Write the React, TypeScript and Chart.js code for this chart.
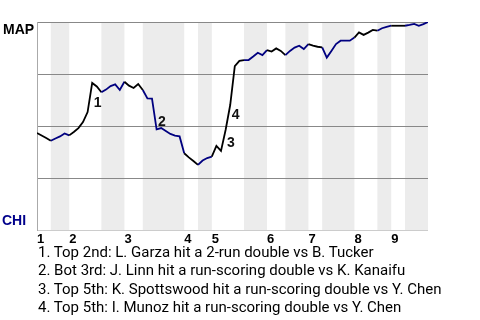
import { useEffect, useRef } from "react";
import { Chart, registerables } from "chart.js";

Chart.register(...registerables);

// Win probability for MAP (%) after each play, play index 0..85
const winProb = [
  46.6, 45.4, 44.2, 42.9, 44.0, 45.0, 46.4, 45.5, 47.1, 49.0,
  51.9, 56.7, 70.7, 69.0, 66.2, 67.5, 69.2, 70.0, 67.3, 71.3,
  69.4, 68.3, 70.2, 67.3, 63.3, 63.2, 48.4, 49.0, 47.6, 46.2,
  45.4, 45.0, 36.9, 34.9, 33.2, 31.3, 33.4, 34.6, 35.3, 40.4,
  38.0, 48.1, 60.1, 78.8, 81.3, 81.7, 81.7, 83.4, 85.2, 84.1,
  86.5, 85.8, 87.3, 86.1, 84.1, 86.1, 87.7, 88.6, 87.0, 89.4,
  88.6, 88.1, 87.8, 82.9, 86.1, 89.4, 91.0, 91.0, 91.0, 92.5,
  95.0, 93.8, 94.9, 96.2, 95.8, 97.0, 97.7, 98.2, 98.2, 98.2,
  98.2, 98.6, 99.1, 98.2, 99.0, 100,
];

// Play index where each half-inning starts (top 1st, bot 1st, ...), last = end
const halfInningStarts = [0, 3, 7, 14, 19, 23, 32, 35, 38, 45, 50, 54, 59, 62, 69, 74, 77, 80, 85];
const inningLabels = ["1", "2", "3", "4", "5", "6", "7", "8", "9"];
const inningStarts = halfInningStarts.filter((_, k) => k % 2 === 0 && k < 18);

const topTeam = "MAP";
const bottomTeam = "CHI";

// Key plays: play index, value where the number sits, and the description
const eventIndex = [12, 26, 41, 42];
const eventLabelValue = [60.9, 51.9, 41.7, 55.3];
const eventNotes = [
  "1. Top 2nd: L. Garza hit a 2-run double vs B. Tucker",
  "2. Bot 3rd: J. Linn hit a run-scoring double vs K. Kanaifu",
  "3. Top 5th: K. Spottswood hit a run-scoring double vs Y. Chen",
  "4. Top 5th: I. Munoz hit a run-scoring double vs Y. Chen",
];

const BLUE = "#000080";
const BLACK = "#000000";
const BAND = "#ececec";

function halfIndex(i: number) {
  let k = 0;
  while (k + 1 < halfInningStarts.length - 1 && halfInningStarts[k + 1] <= i) k++;
  return k;
}

export default function App() {
  const ref = useRef<HTMLCanvasElement | null>(null);

  useEffect(() => {
    if (!ref.current) return;
    const bandsPlugin = {
      id: "bands",
      beforeDraw(chart: any) {
        const { ctx, chartArea, scales } = chart;
        const xs = scales.x;
        ctx.save();
        ctx.fillStyle = BAND;
        for (let k = 1; k < halfInningStarts.length - 1; k += 2) {
          const x0 = xs.getPixelForValue(halfInningStarts[k]);
          const x1 = xs.getPixelForValue(halfInningStarts[k + 1]);
          ctx.fillRect(x0, chartArea.top, x1 - x0, chartArea.bottom - chartArea.top);
        }
        ctx.restore();
      },
    };
    const labelsPlugin = {
      id: "labels",
      afterDatasetsDraw(chart: any) {
        const { ctx, chartArea, scales } = chart;
        ctx.save();
        ctx.font = 'bold 14px "Liberation Sans", Arial, sans-serif';
        ctx.textBaseline = "alphabetic";
        ctx.textAlign = "left";
        ctx.fillStyle = "#000";
        ctx.fillText(topTeam, 3, chartArea.top + 12);
        ctx.fillStyle = "#00008b";
        ctx.fillText(bottomTeam, 2, chartArea.bottom - 5);
        ctx.fillStyle = "#111";
        ctx.textBaseline = "middle";
        eventIndex.forEach((idx, n) => {
          const x = scales.x.getPixelForValue(idx) + 1.5;
          const y = scales.y.getPixelForValue(eventLabelValue[n]);
          ctx.fillText(String(n + 1), x, y);
        });
        ctx.restore();
      },
    };
    const chart = new Chart(ref.current, {
      type: "line",
      data: {
        datasets: [
          {
            data: winProb.map((v, i) => ({ x: i, y: v })),
            borderColor: BLACK,
            borderWidth: 1.8,
            pointRadius: 0,
            tension: 0,
            fill: false,
            segment: {
              borderColor: (c: any) => (halfIndex(c.p0DataIndex) % 2 ? BLUE : BLACK),
            },
          },
        ],
      },
      options: {
        responsive: false,
        animation: false,
        layout: { padding: { left: 37, top: 22, right: 52, bottom: 0 } },
        plugins: { legend: { display: false }, tooltip: { enabled: false } },
        scales: {
          x: {
            type: "linear",
            min: 0,
            max: halfInningStarts[halfInningStarts.length - 1],
            grid: { display: false, drawTicks: false, tickLength: 0 },
            border: { display: false },
            afterBuildTicks: (axis: any) => {
              axis.ticks = inningStarts.map((v) => ({ value: v }));
            },
            afterFit: (axis: any) => {
              axis.height = 20;
            },
            ticks: {
              autoSkip: false,
              maxRotation: 0,
              minRotation: 0,
              align: "start",
              padding: 2,
              color: "#000",
              font: { family: '"Liberation Sans", Arial, sans-serif', size: 13, weight: "bold" },
              callback: (value: any) => inningLabels[inningStarts.indexOf(Number(value))] ?? "",
            },
          },
          y: {
            min: 0,
            max: 100,
            afterFit: (axis: any) => {
              axis.width = 0;
            },
            ticks: { display: false, stepSize: 25 },
            grid: {
              drawTicks: false,
              lineWidth: 1,
              color: (c: any) => (c.tick && c.tick.value === 0 ? "#cccccc" : "#888888"),
            },
            border: { display: true, color: "#aaaaaa", width: 1 },
          },
        },
      },
      plugins: [bandsPlugin, labelsPlugin],
    } as any);
    return () => chart.destroy();
  }, []);

  return (
    <div style={{ position: "absolute", left: 0, top: 0, width: 480, height: 320, background: "#fff" }}>
      <canvas ref={ref} width={480} height={250} style={{ display: "block", width: 480, height: 250 }} />
      <div
        style={{
          position: "absolute",
          left: 38,
          top: 243,
          fontFamily: "Roboto, sans-serif",
          fontSize: 15,
          lineHeight: "18.3px",
          color: "#000",
          whiteSpace: "nowrap",
        }}
      >
        {eventNotes.map((t) => (
          <div key={t}>{t}</div>
        ))}
      </div>
    </div>
  );
}
